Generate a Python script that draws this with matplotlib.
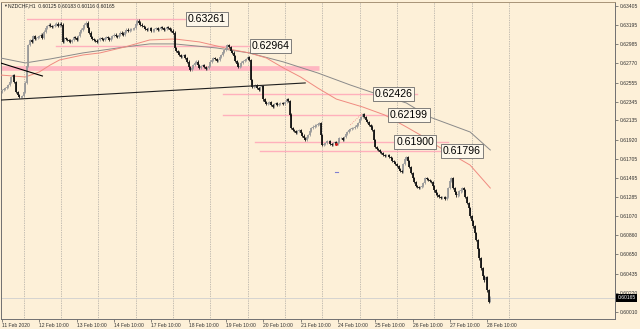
import numpy as np
import matplotlib.pyplot as plt

# NZDCHF H1 closes, one per hourly bar (11 Feb 10:00 -> 28 Feb 12:00)
closes = [
    0.62473, 0.62484, 0.62495, 0.62506, 0.62528, 0.62562, 0.62617, 0.62639, 0.62562, 0.62451,
    0.62417, 0.62395, 0.62395, 0.62406, 0.62451, 0.62551, 0.62739, 0.62972, 0.63028, 0.63006,
    0.63072, 0.63039, 0.63050, 0.63061, 0.63072, 0.63084, 0.63050, 0.63117, 0.63161, 0.63183,
    0.63195, 0.63183, 0.63172, 0.63183, 0.63195, 0.63206, 0.63183, 0.63206, 0.63195, 0.63006,
    0.63050, 0.63039, 0.63028, 0.63017, 0.63006, 0.63028, 0.63061, 0.63050, 0.63028, 0.63072,
    0.63117, 0.63139, 0.63161, 0.63195, 0.63217, 0.63161, 0.63106, 0.63061, 0.63039, 0.63028,
    0.63017, 0.63006, 0.63028, 0.63050, 0.63039, 0.63028, 0.63050, 0.63061, 0.63050, 0.63028,
    0.63050, 0.63072, 0.63084, 0.63072, 0.63061, 0.63084, 0.63106, 0.63095, 0.63084, 0.63117,
    0.63139, 0.63128, 0.63139, 0.63150, 0.63150, 0.63161, 0.63206, 0.63239, 0.63217, 0.63195,
    0.63183, 0.63172, 0.63150, 0.63139, 0.63161, 0.63161, 0.63128, 0.63128, 0.63150, 0.63161,
    0.63139, 0.63150, 0.63172, 0.63161, 0.63139, 0.63150, 0.63172, 0.63161, 0.63139, 0.63128,
    0.63106, 0.62939, 0.62906, 0.62884, 0.62861, 0.62839, 0.62850, 0.62861, 0.62828, 0.62784,
    0.62728, 0.62695, 0.62717, 0.62750, 0.62773, 0.62784, 0.62750, 0.62717, 0.62739, 0.62750,
    0.62728, 0.62706, 0.62717, 0.62739, 0.62784, 0.62806, 0.62828, 0.62817, 0.62795, 0.62806,
    0.62839, 0.62861, 0.62895, 0.62917, 0.62939, 0.62972, 0.62950, 0.62906, 0.62884, 0.62850,
    0.62795, 0.62762, 0.62728, 0.62739, 0.62773, 0.62795, 0.62806, 0.62817, 0.62839, 0.62806,
    0.62584, 0.62506, 0.62517, 0.62528, 0.62495, 0.62473, 0.62506, 0.62517, 0.62372, 0.62339,
    0.62317, 0.62328, 0.62339, 0.62306, 0.62284, 0.62317, 0.62328, 0.62306, 0.62317, 0.62328,
    0.62328, 0.62317, 0.62339, 0.62372, 0.62350, 0.62196, 0.62051, 0.62029, 0.62018, 0.61996,
    0.62018, 0.62029, 0.61996, 0.61963, 0.61940, 0.61918, 0.61951, 0.61974, 0.62018, 0.62051,
    0.62063, 0.62074, 0.62085, 0.62096, 0.62107, 0.61974, 0.61863, 0.61874, 0.61885, 0.61907,
    0.61907, 0.61874, 0.61863, 0.61885, 0.61896, 0.61874, 0.61896, 0.61940, 0.61940, 0.61918,
    0.61951, 0.61985, 0.62007, 0.62029, 0.62040, 0.62051, 0.62051, 0.62063, 0.62085, 0.62107,
    0.62151, 0.62173, 0.62207, 0.62173, 0.62140, 0.62118, 0.62085, 0.62063, 0.62029, 0.61918,
    0.61840, 0.61818, 0.61807, 0.61785, 0.61774, 0.61752, 0.61740, 0.61752, 0.61752, 0.61729,
    0.61718, 0.61685, 0.61674, 0.61652, 0.61629, 0.61596, 0.61574, 0.61563, 0.61652, 0.61707,
    0.61729, 0.61685, 0.61618, 0.61552, 0.61496, 0.61452, 0.61408, 0.61397, 0.61386, 0.61397,
    0.61408, 0.61441, 0.61496, 0.61485, 0.61474, 0.61463, 0.61452, 0.61408, 0.61362, 0.61329,
    0.61307, 0.61285, 0.61274, 0.61285, 0.61285, 0.61263, 0.61285, 0.61386, 0.61463, 0.61496,
    0.61386, 0.61340, 0.61307, 0.61318, 0.61351, 0.61362, 0.61386, 0.61362, 0.61285, 0.61219,
    0.61163, 0.61074, 0.61019, 0.60963, 0.60886, 0.60808, 0.60708, 0.60608, 0.60497, 0.60408,
    0.60364, 0.60397, 0.60253, 0.60125, 0.60165,
]
first_open = 0.62460
last_bar = [0.60125, 0.60183, 0.60116, 0.60165]  # O H L C of the current bar

# moving averages read at a few bars
ma_red_x = [-1, 15, 24, 31, 37, 52, 63, 79, 95, 111, 127, 149, 159, 170, 181, 192,
            203, 215, 232, 246, 260, 269, 282, 301, 314]
ma_red = [0.62639, 0.62617, 0.62673, 0.62750, 0.62806, 0.62861, 0.62884, 0.62950,
          0.63028, 0.63039, 0.63006, 0.62917, 0.62884, 0.62828, 0.62717, 0.62617,
          0.62495, 0.62372, 0.62284, 0.62196, 0.62063, 0.61974, 0.61830, 0.61640, 0.61385]
ma_gray_x = [-1, 15, 31, 52, 79, 95, 111, 138, 159, 181, 203, 224, 239, 260, 275, 301, 314]
ma_gray = [0.62828, 0.62773, 0.62817, 0.62884, 0.62950, 0.62984, 0.62984, 0.62939,
           0.62884, 0.62784, 0.62662, 0.62528, 0.62440, 0.62329, 0.62173, 0.62007, 0.61807]

# horizontal levels
level_prices = [0.63261, 0.62964, 0.62426, 0.62199, 0.61900, 0.61796]
level_start = [16, 35, 142, 142, 163, 166]
level_end = [118, 159, 267, 248, 287, 284]
label_bar = [118, 159, 238, 248, 252, 282]
band_price = 0.62717

# trend lines
trend1_x, trend1_y = [-1, 26], [0.62773, 0.62628]
trend2_x, trend2_y = [-1, 195], [0.62361, 0.62551]

yticks = [0.63405, 0.63195, 0.62985, 0.62770, 0.62555, 0.62345, 0.62135, 0.61920,
          0.61705, 0.61495, 0.61285, 0.61070, 0.60860, 0.60650, 0.60435, 0.60220, 0.60010]
day_labels = ["11 Feb 2020", "12 Feb 10:00", "13 Feb 10:00", "14 Feb 10:00", "17 Feb 10:00",
              "18 Feb 10:00", "19 Feb 10:00", "20 Feb 10:00", "21 Feb 10:00", "24 Feb 10:00",
              "25 Feb 10:00", "26 Feb 10:00", "27 Feb 10:00", "28 Feb 10:00"]

bg = '#fdf0d8'
small = ['Liberation Sans', 'DejaVu Sans']

fig = plt.figure(figsize=(6.4, 3.29), dpi=100, facecolor=bg)
ax = fig.add_axes([1/640, 10/329, 614/640, 317/329])
ax.set_facecolor(bg)

c = np.array(closes)
o = np.concatenate([[first_open], c[:-1]])
o[-1] = last_bar[0]
wick = 0.00016
h = np.maximum(o, c) + wick
l = np.minimum(o, c) - wick
h[-1], l[-1] = last_bar[1], last_bar[2]
x = np.arange(len(c))

# day separators
for g in range(14, 14 + 24 * 14, 24):
    ax.axvline(g, color='#8c8c8c', lw=0.5, ls=(0, (1, 1.5)), zorder=1)

ax.axhline(c[-1], color='#cfcfcf', lw=0.6, zorder=1)

# pink levels
ax.plot([-1, 204], [band_price, band_price], color='#ffb6c1', lw=3.4,
        solid_capstyle='butt', zorder=2)
for p, s, e in zip(level_prices, level_start, level_end):
    ax.plot([s, e], [p, p], color='#ffb0bc', lw=1.0, zorder=2)

ax.plot(ma_gray_x, ma_gray, color='#8a8a8a', lw=0.7, zorder=3)
ax.plot(ma_red_x, ma_red, color='#f08a80', lw=0.7, zorder=3)

up = c >= o
for m, col in [(up, '#9a9a9a'), (~up, '#151515')]:
    ax.vlines(x[m], l[m], h[m], color=col, lw=0.6, zorder=4)
    ax.vlines(x[m], o[m], c[m], color=col, lw=1.3, zorder=4)

ax.plot(trend1_x, trend1_y, color='black', lw=0.8, zorder=5)
ax.plot(trend2_x, trend2_y, color='#202020', lw=0.8, zorder=5)

# small markers
ax.plot([224, 232], [0.62085, 0.62218], color='#f08080', lw=0.6, ls=':', zorder=5)
ax.plot([215], [0.61874], marker='o', ms=1.2, color='#d02020', zorder=5)
ax.plot([214, 216], [0.61563, 0.61563], color='#8080d0', lw=0.8, zorder=5)

for p, b in zip(level_prices, label_bar):
    ax.text(b + 1.5, p, f'{p:.5f}', fontsize=7.6, family=small, va='center', ha='left',
            zorder=6, bbox=dict(boxstyle='square,pad=0.18', fc='#fdf7ea', ec='#6a6a6a', lw=0.6))

ax.set_xlim(-0.64, 394.2)
ax.set_ylim(0.59932, 0.63449)

ax.yaxis.tick_right()
ax.set_yticks(yticks)
ax.set_yticklabels([f'{v:.5f}' for v in yticks], fontsize=3.6, family=small, color='#333333')
ax.set_xticks(range(0, 24 * 14, 24))
ax.set_xticklabels(day_labels, fontsize=3.6, family=small, color='#333333', ha='left')
ax.tick_params(axis='both', length=2, width=0.5, pad=1.2, colors='#555555')
for lab in ax.get_xticklabels() + ax.get_yticklabels():
    lab.set_color('#333333')
for sp in ax.spines.values():
    sp.set_color('#707070')
    sp.set_linewidth(0.7)
ax.spines['top'].set_color('#a89478')

ax.text(1.004, c[-1], f'{c[-1]:.5f}', transform=ax.get_yaxis_transform(), fontsize=3.6,
        family=small, color='white', va='center', ha='left', clip_on=False,
        bbox=dict(boxstyle='square,pad=0.25', fc='black', ec='black', lw=0))

fig.text(3/640, 1 - 5.5/329, '\u25bc', fontsize=2.8, family=small, va='center', color='#333333')
fig.text(8/640, 1 - 5.5/329, 'NZDCHF,H1  0.60125 0.60183 0.60116 0.60165', fontsize=3.6,
         family=small, va='center', color='#222222')

fig.savefig('out.png', dpi=100, facecolor=bg)
